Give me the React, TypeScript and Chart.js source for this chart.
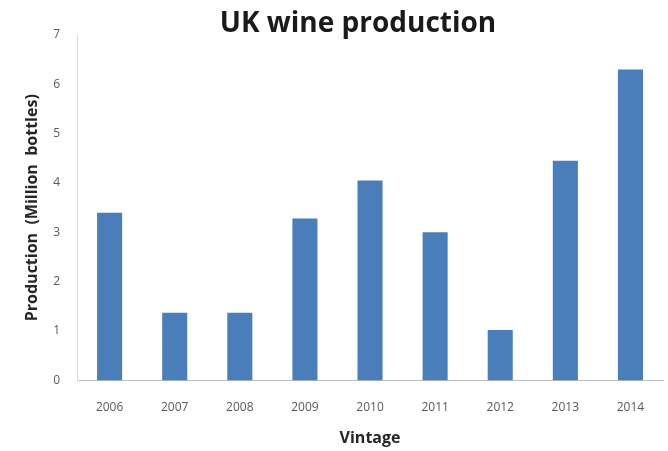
import React, { useEffect, useRef } from "react";
import { Chart, registerables } from "chart.js";

Chart.register(...registerables);

const vintages = ["2006", "2007", "2008", "2009", "2010", "2011", "2012", "2013", "2014"];
const production = [3.4, 1.37, 1.37, 3.28, 4.05, 3.0, 1.02, 4.45, 6.3];
const chartTitle = "UK wine production";
const xTitle = "Vintage";
const yTitle = "Production  (Million  bottles)";

const FONT = "'Open Sans', sans-serif";

const titlePlugin = {
  id: "offsetTitle",
  afterDraw(chart: any) {
    const c = chart.ctx;
    c.save();
    c.font = `bold 28px ${FONT}`;
    c.fillStyle = "#1a1a1a";
    c.textAlign = "center";
    c.textBaseline = "alphabetic";
    c.fillText(chartTitle, chart.width / 2 + 24, 32);
    c.restore();
  },
};

export default function App() {
  const ref = useRef<HTMLCanvasElement | null>(null);
  useEffect(() => {
    document.body.style.margin = "0";
    const ctx = ref.current!;
    const chart = new Chart(ctx, {
      type: "bar",
      data: {
        labels: vintages,
        datasets: [
          {
            data: production,
            backgroundColor: "#4A7EBB",
            borderWidth: 0,
            barPercentage: 0.77,
            categoryPercentage: 0.5,
          },
        ],
      },
      options: {
        animation: false,
        responsive: false,
        devicePixelRatio: 1,
        layout: { padding: { left: 23, right: 5, top: 35, bottom: 3 } },
        plugins: {
          legend: { display: false },
          tooltip: { enabled: false },
          title: { display: false },
        },
        scales: {
          x: {
            grid: { display: false, drawTicks: false },
            border: { color: "#bfbfbf", width: 1 },
            ticks: {
              color: "#595959",
              font: { family: FONT, size: 12 },
              padding: 20,
            },
            title: {
              display: true,
              text: xTitle,
              color: "#262626",
              font: { family: FONT, size: 16, weight: "bold" },
              padding: { top: -6, bottom: 0 },
            },
          },
          y: {
            min: 0,
            max: 7,
            grid: { display: false, drawTicks: false },
            border: { color: "#d9d9d9", width: 1 },
            ticks: {
              stepSize: 1,
              color: "#595959",
              font: { family: FONT, size: 12 },
              padding: 17,
            },
            title: {
              display: true,
              text: yTitle,
              color: "#262626",
              font: { family: FONT, size: 16, weight: "bold" },
              padding: { top: 0, bottom: -6 },
            },
          },
        },
      },
      plugins: [titlePlugin],
    });
    return () => chart.destroy();
  }, []);
  return (
    <div style={{ width: 668, height: 451, background: "#fff" }}>
      <canvas ref={ref} width={668} height={451} style={{ display: "block" }} />
    </div>
  );
}
